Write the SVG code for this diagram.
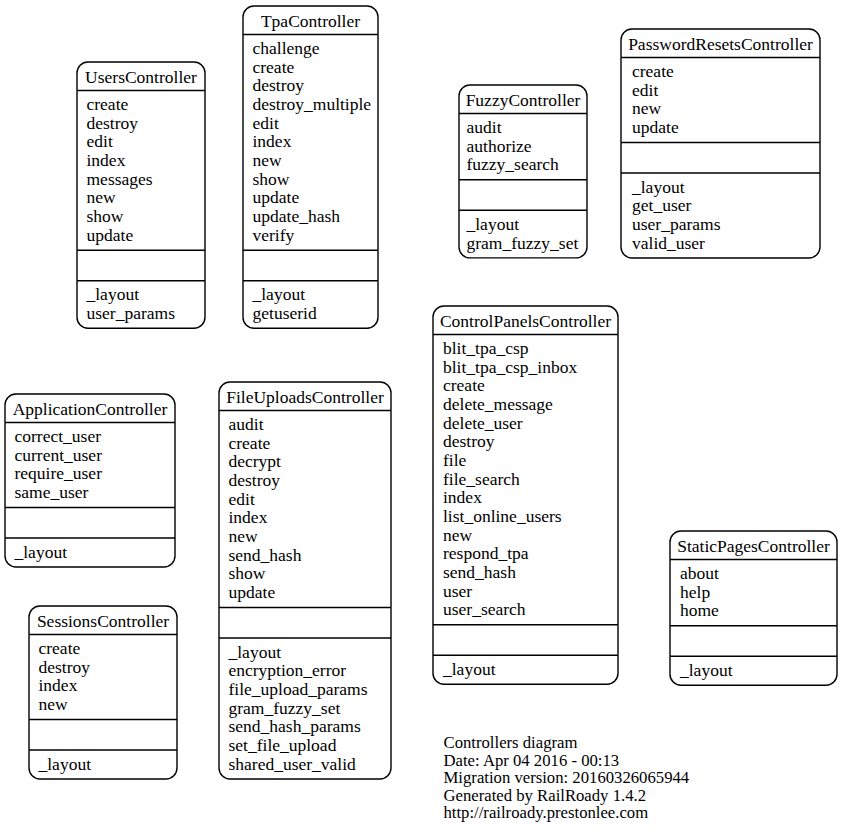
<svg xmlns="http://www.w3.org/2000/svg" width="843" height="833" viewBox="0 0 843 833">
<style>
.bg{fill:#fff}
.box{fill:none;stroke:#000;stroke-width:1.4}
.sep{stroke:#000;stroke-width:1.4}
text{font-family:"Liberation Serif","Times New Roman",serif;font-size:17.5px;fill:#000}
.ttl{text-anchor:middle}
.foot{font-size:16.7px}
</style>
<rect class="bg" x="0" y="0" width="843" height="833"/>
<g id="connectors"></g>

<g id="UsersController">
<rect class="box" x="77" y="62" width="128" height="266.3" rx="11"/>
<line class="sep" x1="77" y1="90.5" x2="205" y2="90.5"/>
<line class="sep" x1="77" y1="250.2" x2="205" y2="250.2"/>
<line class="sep" x1="77" y1="280.7" x2="205" y2="280.7"/>
<text class="ttl" x="141" y="82.5">UsersController</text>
<text x="86.5" y="110">create</text>
<text x="86.5" y="128.7">destroy</text>
<text x="86.5" y="147.3">edit</text>
<text x="86.5" y="166">index</text>
<text x="86.5" y="184.7">messages</text>
<text x="86.5" y="203.3">new</text>
<text x="86.5" y="222">show</text>
<text x="86.5" y="240.7">update</text>
<text x="86.5" y="300.2">_layout</text>
<text x="86.5" y="318.8">user_params</text>
</g>

<g id="TpaController">
<rect class="box" x="243" y="6" width="135" height="322.3" rx="11"/>
<line class="sep" x1="243" y1="34.5" x2="378" y2="34.5"/>
<line class="sep" x1="243" y1="250.2" x2="378" y2="250.2"/>
<line class="sep" x1="243" y1="280.7" x2="378" y2="280.7"/>
<text class="ttl" x="310.5" y="26.5">TpaController</text>
<text x="252.5" y="54">challenge</text>
<text x="252.5" y="72.7">create</text>
<text x="252.5" y="91.3">destroy</text>
<text x="252.5" y="110">destroy_multiple</text>
<text x="252.5" y="128.7">edit</text>
<text x="252.5" y="147.3">index</text>
<text x="252.5" y="166">new</text>
<text x="252.5" y="184.7">show</text>
<text x="252.5" y="203.3">update</text>
<text x="252.5" y="222">update_hash</text>
<text x="252.5" y="240.7">verify</text>
<text x="252.5" y="300.2">_layout</text>
<text x="252.5" y="318.8">getuserid</text>
</g>

<g id="FuzzyController">
<rect class="box" x="459" y="85" width="128" height="172.9" rx="11"/>
<line class="sep" x1="459" y1="113.5" x2="587" y2="113.5"/>
<line class="sep" x1="459" y1="179.8" x2="587" y2="179.8"/>
<line class="sep" x1="459" y1="210.3" x2="587" y2="210.3"/>
<text class="ttl" x="523" y="105.5">FuzzyController</text>
<text x="466.5" y="133">audit</text>
<text x="466.5" y="151.7">authorize</text>
<text x="466.5" y="170.3">fuzzy_search</text>
<text x="466.5" y="229.8">_layout</text>
<text x="466.5" y="248.5">gram_fuzzy_set</text>
</g>

<g id="PasswordResetsController">
<rect class="box" x="621" y="29" width="199" height="229" rx="11"/>
<line class="sep" x1="621" y1="57.5" x2="820" y2="57.5"/>
<line class="sep" x1="621" y1="142.5" x2="820" y2="142.5"/>
<line class="sep" x1="621" y1="173" x2="820" y2="173"/>
<text class="ttl" x="720.5" y="49.5">PasswordResetsController</text>
<text x="632" y="77">create</text>
<text x="632" y="95.7">edit</text>
<text x="632" y="114.3">new</text>
<text x="632" y="133">update</text>
<text x="632" y="192.5">_layout</text>
<text x="632" y="211.2">get_user</text>
<text x="632" y="229.8">user_params</text>
<text x="632" y="248.5">valid_user</text>
</g>

<g id="ApplicationController">
<rect class="box" x="5" y="394" width="170" height="173" rx="11"/>
<line class="sep" x1="5" y1="422.5" x2="175" y2="422.5"/>
<line class="sep" x1="5" y1="507.5" x2="175" y2="507.5"/>
<line class="sep" x1="5" y1="538" x2="175" y2="538"/>
<text class="ttl" x="90" y="414.5">ApplicationController</text>
<text x="14.5" y="442">correct_user</text>
<text x="14.5" y="460.7">current_user</text>
<text x="14.5" y="479.3">require_user</text>
<text x="14.5" y="498">same_user</text>
<text x="14.5" y="557.5">_layout</text>
</g>

<g id="SessionsController">
<rect class="box" x="29" y="606" width="148" height="173" rx="11"/>
<line class="sep" x1="29" y1="634.5" x2="177" y2="634.5"/>
<line class="sep" x1="29" y1="719.5" x2="177" y2="719.5"/>
<line class="sep" x1="29" y1="750" x2="177" y2="750"/>
<text class="ttl" x="103" y="626.5">SessionsController</text>
<text x="38.5" y="654">create</text>
<text x="38.5" y="672.7">destroy</text>
<text x="38.5" y="691.3">index</text>
<text x="38.5" y="710">new</text>
<text x="38.5" y="769.5">_layout</text>
</g>

<g id="FileUploadsController">
<rect class="box" x="219" y="382" width="172" height="397" rx="11"/>
<line class="sep" x1="219" y1="410.5" x2="391" y2="410.5"/>
<line class="sep" x1="219" y1="607.5" x2="391" y2="607.5"/>
<line class="sep" x1="219" y1="638" x2="391" y2="638"/>
<text class="ttl" x="305" y="402.5">FileUploadsController</text>
<text x="228.5" y="430">audit</text>
<text x="228.5" y="448.7">create</text>
<text x="228.5" y="467.3">decrypt</text>
<text x="228.5" y="486">destroy</text>
<text x="228.5" y="504.7">edit</text>
<text x="228.5" y="523.3">index</text>
<text x="228.5" y="542">new</text>
<text x="228.5" y="560.7">send_hash</text>
<text x="228.5" y="579.3">show</text>
<text x="228.5" y="598">update</text>
<text x="228.5" y="657.5">_layout</text>
<text x="228.5" y="676.2">encryption_error</text>
<text x="228.5" y="694.8">file_upload_params</text>
<text x="228.5" y="713.5">gram_fuzzy_set</text>
<text x="228.5" y="732.2">send_hash_params</text>
<text x="228.5" y="750.8">set_file_upload</text>
<text x="228.5" y="769.5">shared_user_valid</text>
</g>

<g id="ControlPanelsController">
<rect class="box" x="433" y="306" width="185" height="378.3" rx="11"/>
<line class="sep" x1="433" y1="334.5" x2="618" y2="334.5"/>
<line class="sep" x1="433" y1="624.8" x2="618" y2="624.8"/>
<line class="sep" x1="433" y1="655.3" x2="618" y2="655.3"/>
<text class="ttl" x="525.5" y="326.5">ControlPanelsController</text>
<text x="443" y="354">blit_tpa_csp</text>
<text x="443" y="372.7">blit_tpa_csp_inbox</text>
<text x="443" y="391.3">create</text>
<text x="443" y="410">delete_message</text>
<text x="443" y="428.7">delete_user</text>
<text x="443" y="447.3">destroy</text>
<text x="443" y="466">file</text>
<text x="443" y="484.7">file_search</text>
<text x="443" y="503.3">index</text>
<text x="443" y="522">list_online_users</text>
<text x="443" y="540.7">new</text>
<text x="443" y="559.3">respond_tpa</text>
<text x="443" y="578">send_hash</text>
<text x="443" y="596.7">user</text>
<text x="443" y="615.3">user_search</text>
<text x="443" y="674.8">_layout</text>
</g>

<g id="StaticPagesController">
<rect class="box" x="670" y="531" width="167" height="154.3" rx="11"/>
<line class="sep" x1="670" y1="559.5" x2="837" y2="559.5"/>
<line class="sep" x1="670" y1="625.8" x2="837" y2="625.8"/>
<line class="sep" x1="670" y1="656.3" x2="837" y2="656.3"/>
<text class="ttl" x="753.5" y="551.5">StaticPagesController</text>
<text x="680" y="579">about</text>
<text x="680" y="597.7">help</text>
<text x="680" y="616.3">home</text>
<text x="680" y="675.8">_layout</text>
</g>

<g id="footer">
<text class="foot" x="443.5" y="748.3">Controllers diagram</text>
<text class="foot" x="443.5" y="765.8">Date: Apr 04 2016 - 00:13</text>
<text class="foot" x="443.5" y="783.3">Migration version: 20160326065944</text>
<text class="foot" x="443.5" y="800.8">Generated by RailRoady 1.4.2</text>
<text class="foot" x="443.5" y="818.3">http://railroady.prestonlee.com</text>
</g>
</svg>
